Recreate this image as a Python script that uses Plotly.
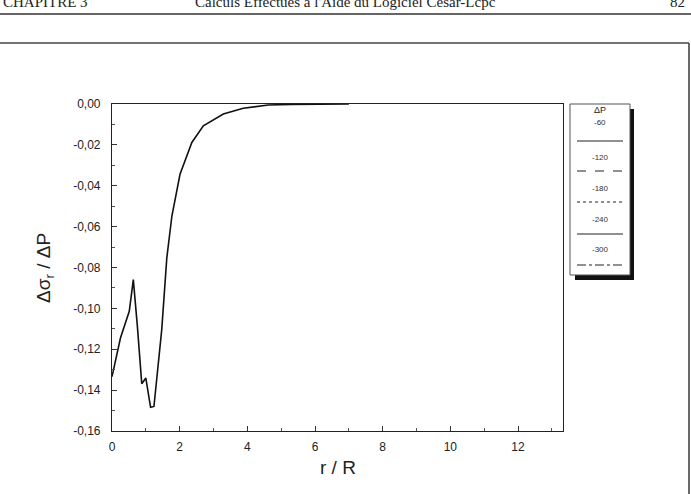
import plotly.graph_objects as go

# ---- data ----
r_over_R = [0, 0.25, 0.51, 0.63, 0.75, 0.88, 1.0, 1.14, 1.24, 1.47, 1.62, 1.77,
            2.01, 2.36, 2.70, 3.29, 3.88, 4.62, 5.3, 6.0, 7.0]
dsig_dP = [-0.1334, -0.1145, -0.1014, -0.0859, -0.1088, -0.1369, -0.1341, -0.1484,
           -0.148, -0.1104, -0.0753, -0.0548, -0.0344, -0.0188, -0.0107, -0.0049,
           -0.0021, -0.0005, -0.0002, -0.0001, 0.0]
y_tick_vals = [0, -0.02, -0.04, -0.06, -0.08, -0.10, -0.12, -0.14, -0.16]
y_tick_text = ["0,00", "-0,02", "-0,04", "-0,06", "-0,08", "-0,10", "-0,12", "-0,14", "-0,16"]
x_tick_vals = [0, 2, 4, 6, 8, 10, 12]
x_tick_text = ["0", "2", "4", "6", "8", "10", "12"]
legend_labels = ["-60", "-120", "-180", "-240", "-300"]
legend_dashes = ["solid", "dash", "dot", "solid", "dashdot"]

W, H = 691, 494
L, R, T, B = 112, 563, 104, 431


def px(x):
    return (x - L) / (R - L)


def py(y):
    return (B - y) / (B - T)


fig = go.Figure()
fig.add_trace(go.Scatter(x=r_over_R, y=dsig_dP, mode="lines",
                         line=dict(color="#111111", width=1.6), showlegend=False))

axis_font = dict(family="Liberation Sans, Arial, sans-serif", size=12, color="#222222")

fig.update_xaxes(range=[0, 13.33], showgrid=False, zeroline=False,
                 showline=True, linecolor="#222222", linewidth=1.2, mirror=True,
                 ticks="inside", ticklen=5, tickcolor="#333333",
                 tickvals=x_tick_vals, ticktext=x_tick_text, tickfont=axis_font,
                 ticklabelstandoff=4,
                 minor=dict(ticks="inside", dtick=1, ticklen=3, tickcolor="#555555"))
fig.update_yaxes(range=[-0.16, 0], showgrid=False, zeroline=False,
                 showline=True, linecolor="#222222", linewidth=1.2, mirror=True,
                 ticks="inside", ticklen=5, tickcolor="#333333",
                 tickvals=y_tick_vals, ticktext=y_tick_text, tickfont=axis_font,
                 ticklabelstandoff=8,
                 minor=dict(ticks="inside", dtick=0.01, ticklen=3, tickcolor="#555555"))

shapes = []
annotations = []

# page header rule and frame
shapes.append(dict(type="line", xref="paper", yref="paper", x0=px(0), x1=px(691),
                   y0=py(14), y1=py(14), line=dict(color="#333333", width=1.6)))
shapes.append(dict(type="line", xref="paper", yref="paper", x0=px(0), x1=px(689),
                   y0=py(43), y1=py(43), line=dict(color="#444444", width=1.4)))
shapes.append(dict(type="line", xref="paper", yref="paper", x0=px(689), x1=px(689),
                   y0=py(43), y1=py(494), line=dict(color="#444444", width=1.6)))

serif = dict(family="Liberation Serif, Times New Roman, serif", size=15, color="#222222")
annotations.append(dict(text="CHAPITRE 3", xref="paper", yref="paper", x=px(1), y=py(12),
                        xanchor="left", yanchor="bottom", showarrow=False, font=serif))
annotations.append(dict(text="Calculs Effectués à l'Aide du Logiciel César-Lcpc",
                        xref="paper", yref="paper", x=px(345), y=py(12),
                        xanchor="center", yanchor="bottom", showarrow=False, font=serif))
annotations.append(dict(text="82", xref="paper", yref="paper", x=px(687), y=py(12),
                        xanchor="right", yanchor="bottom", showarrow=False, font=serif))

# legend box with shadow
shapes.append(dict(type="rect", xref="paper", yref="paper", x0=px(575), x1=px(634),
                   y0=py(280), y1=py(109), fillcolor="#111111", line=dict(width=0)))
shapes.append(dict(type="rect", xref="paper", yref="paper", x0=px(570), x1=px(630),
                   y0=py(275), y1=py(104), fillcolor="white",
                   line=dict(color="#555555", width=1)))
annotations.append(dict(text="ΔP", xref="paper", yref="paper", x=px(600), y=py(110),
                        xanchor="center", yanchor="middle", showarrow=False,
                        font=dict(family="Liberation Sans, Arial, sans-serif", size=9,
                                  color="#222222")))
label_y = [122, 157, 188, 219, 250]
line_y = [141, 171, 202, 234, 265]
for lab, dash, ly, lny in zip(legend_labels, legend_dashes, label_y, line_y):
    annotations.append(dict(text=lab, xref="paper", yref="paper", x=px(600), y=py(ly),
                            xanchor="center", yanchor="middle", showarrow=False,
                            font=dict(family="Liberation Sans, Arial, sans-serif", size=8,
                                      color="#333333")))
    shapes.append(dict(type="line", xref="paper", yref="paper", x0=px(577), x1=px(623),
                       y0=py(lny), y1=py(lny),
                       line=dict(color="#222222", width=1, dash=dash)))

# axis titles
annotations.append(dict(text="r / R", xref="paper", yref="paper", x=px(337.5), y=py(467),
                        xanchor="center", yanchor="middle", showarrow=False,
                        font=dict(family="Liberation Sans, Arial, sans-serif", size=19,
                                  color="#222222")))
annotations.append(dict(text="Δσ<sub>r</sub> / ΔP", xref="paper", yref="paper",
                        x=px(45), y=py(268), xanchor="center", yanchor="middle",
                        textangle=-90, showarrow=False,
                        font=dict(family="Liberation Sans, Arial, sans-serif", size=19,
                                  color="#222222")))

fig.update_layout(width=W, height=H, margin=dict(l=L, r=W - R, t=T, b=H - B),
                  paper_bgcolor="white", plot_bgcolor="white",
                  shapes=shapes, annotations=annotations, showlegend=False)

fig.write_html("out.html")
